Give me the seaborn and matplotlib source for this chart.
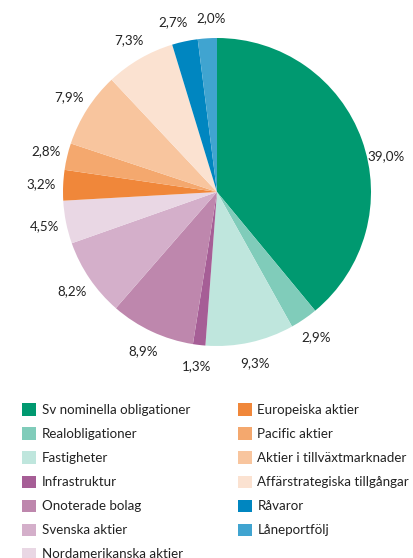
import seaborn as sns
import matplotlib.pyplot as plt
from matplotlib.patches import Patch

categories = [
    "Sv nominella obligationer", "Realobligationer", "Fastigheter",
    "Infrastruktur", "Onoterade bolag", "Svenska aktier",
    "Nordamerikanska aktier", "Europeiska aktier", "Pacific aktier",
    "Aktier i tillväxtmarknader", "Affärstrategiska tillgångar",
    "Råvaror", "Låneportfölj",
]
shares = [39.0, 2.9, 9.3, 1.3, 8.9, 8.2, 4.5, 3.2, 2.8, 7.9, 7.3, 2.7, 2.0]
colors = [
    "#009970", "#80CCBA", "#BFE6DD", "#A65E96", "#BE87AD", "#D4AFCA",
    "#E9D7E4", "#F0873A", "#F4A86E", "#F8C59E", "#FBE2D1", "#0086C0",
    "#40A4D0",
]

sns.set_theme(style="white")
plt.rcParams["font.family"] = ["Lato", "DejaVu Sans"]
palette = sns.color_palette(colors)

fig = plt.figure(figsize=(4.14, 5.58), dpi=100)
W, H = 414, 558
cx, cy, r = 217, 192, 154
ax = fig.add_axes([(cx - r) / W, (H - cy - r) / H, 2 * r / W, 2 * r / H])

wedges, texts, autotexts = ax.pie(
    shares, colors=palette, startangle=90, counterclock=False,
    autopct=lambda p: f"{p:.1f}%".replace(".", ","), pctdistance=1.14,
    wedgeprops=dict(linewidth=0),
    textprops=dict(fontsize=9.6, color="#222222"),
)
# label nudges to match the original layout
autotexts[0].set_position((1.1, 0.23))
x, y = autotexts[-2].get_position()
autotexts[-2].set_position((x - 0.05, y - 0.01))
x, y = autotexts[-1].get_position()
autotexts[-1].set_position((x + 0.03, y - 0.01))
ax.set_xlim(-1, 1)
ax.set_ylim(-1, 1)
ax.set_aspect("equal")

handles = [Patch(facecolor=c, edgecolor="none") for c in palette]
fig.legend(
    handles, categories, loc="upper left",
    bbox_to_anchor=(17 / W, 1 - 398 / H), ncol=2, frameon=False,
    fontsize=9.6, handlelength=1.05, handleheight=1.05, handletextpad=0.4,
    labelspacing=0.85, columnspacing=3.6, borderaxespad=0,
    labelcolor="#222222",
)

fig.savefig("out.png", dpi=100)
